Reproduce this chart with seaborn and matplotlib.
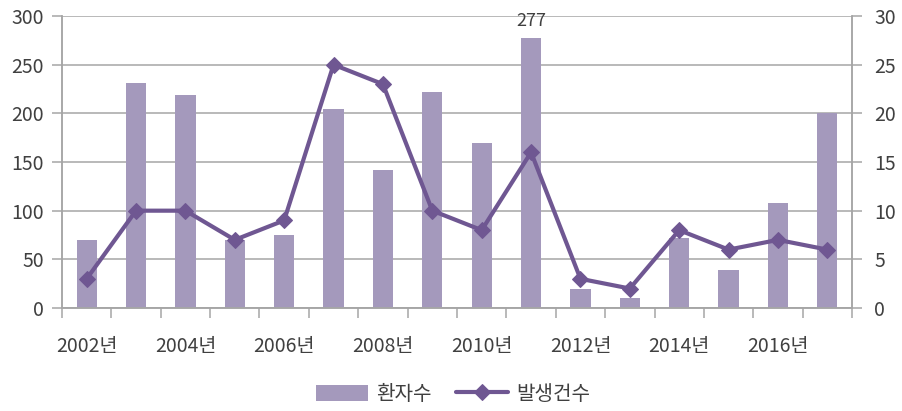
import numpy as np
import pandas as pd
import matplotlib
matplotlib.use("Agg")
import matplotlib.pyplot as plt
import seaborn as sns

years = [str(y) for y in range(2002, 2018)]
patients = [70, 231, 219, 70, 75, 204, 142, 222, 170, 277, 20, 10, 72, 39, 108, 200]  # 환자수
cases = [3, 10, 10, 7, 9, 25, 23, 10, 8, 16, 3, 2, 8, 6, 7, 6]  # 발생건수
tick_labels = [y + "년" if i % 2 == 0 else "" for i, y in enumerate(years)]

sns.set_style("white")
plt.rcParams["font.family"] = ["Noto Sans CJK KR", "DejaVu Sans"]

bar_col = "#A499BC"
line_col = "#6F5792"
grid_col = "#A6A6A6"
txt_col = "#404040"

df = pd.DataFrame({"year": years, "patients": patients, "cases": cases})

fig = plt.figure(figsize=(9.02, 4.11), dpi=100)
ax = fig.add_axes([0.0687, 0.2506, 0.8759, 0.7104])
sns.barplot(data=df, x="year", y="patients", color=bar_col, width=0.41,
            saturation=1, linewidth=0, ax=ax, label="환자수")
ax.set_ylim(0, 300)
ax.set_yticks(np.arange(0, 301, 50))
ax.set_xlim(-0.5, len(years) - 0.5)
ax.yaxis.grid(True, color=grid_col, linewidth=1.1)
ax.set_axisbelow(True)

# 277 label on the tallest bar
imax = int(np.argmax(patients))
ax.text(imax, patients[imax] + 300 * 0.03, str(patients[imax]), ha="center",
        va="bottom", fontsize=13, color=txt_col)

ax2 = ax.twinx()
sns.lineplot(x=np.arange(len(years)), y=cases, ax=ax2, color=line_col,
             linewidth=3, marker="D", markersize=8, markeredgecolor=line_col,
             label="발생건수", legend=False)
ax2.set_ylim(0, 30)
ax2.set_yticks(np.arange(0, 31, 5))
ax2.set_xlim(-0.5, len(years) - 0.5)

# x ticks: marks at category boundaries, labels every other year
ax.set_xticks(np.arange(-0.5, len(years), 1.0))
ax.set_xticklabels([])
ax.set_xticks(np.arange(len(years)), minor=True)
ax.set_xticklabels(tick_labels, minor=True)
ax.tick_params(axis="x", which="major", bottom=True, length=7, width=1.1,
               color=grid_col, direction="out")
ax.tick_params(axis="x", which="minor", bottom=True, length=0, pad=20,
               labelsize=14, labelcolor=txt_col)
ax.tick_params(axis="y", left=True, length=7, width=1.1, color=grid_col, pad=6,
               labelsize=14, labelcolor=txt_col)
ax2.tick_params(axis="y", right=True, length=7, width=1.1, color=grid_col, pad=9,
                labelsize=14, labelcolor=txt_col)
ax.set_xlabel("")
ax.set_ylabel("")
ax2.set_ylabel("")

for a in (ax, ax2):
    a.spines["top"].set_visible(False)
    for s in ("left", "right", "bottom"):
        a.spines[s].set_color(grid_col)
        a.spines[s].set_linewidth(1.1)

h1, l1 = ax.get_legend_handles_labels()
h2, l2 = ax2.get_legend_handles_labels()
if ax.get_legend() is not None:
    ax.get_legend().remove()
fig.legend(h1 + h2, l1 + l2, loc="center", bbox_to_anchor=(0.502, 0.04), ncol=2,
           frameon=False, fontsize=14.5, handlelength=2.6, handleheight=0.9,
           columnspacing=1.2, handletextpad=0.4, labelcolor=txt_col)

fig.savefig("out.png", dpi=100)
